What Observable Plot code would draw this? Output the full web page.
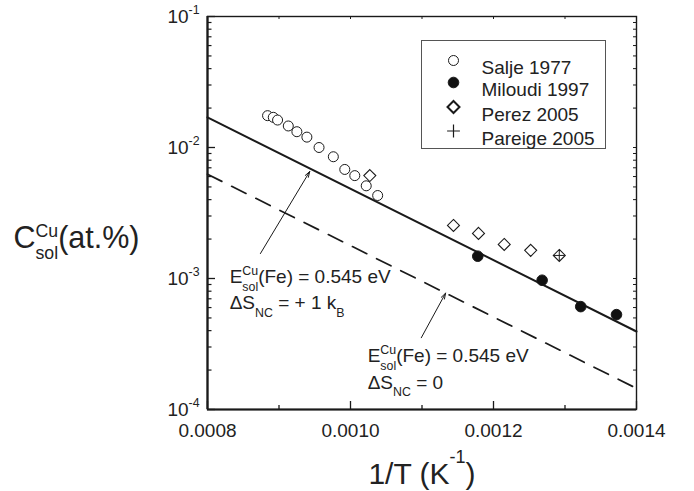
<!DOCTYPE html>
<html>
<head>
<meta charset="utf-8">
<script src="https://cdn.jsdelivr.net/npm/d3@7"></script>
<script src="https://cdn.jsdelivr.net/npm/@observablehq/plot@0.6"></script>
<style>
  html, body { margin: 0; padding: 0; background: #fff; }
  #chart { width: 694px; height: 491px; }
</style>
</head>
<body>
<div id="chart"></div>
<script>
// ---------- data ----------
const saljeX = [0.000884, 0.000892, 0.000898, 0.000913, 0.000925, 0.000939, 0.000956, 0.000976, 0.000992, 0.001006, 0.001022, 0.001038];
const saljeY = [0.0175, 0.0170, 0.0162, 0.0146, 0.0132, 0.0120, 0.0100, 0.0085, 0.0068, 0.0061, 0.0051, 0.0043];

const miloudiX = [0.001178, 0.001268, 0.001322, 0.001372];
const miloudiY = [0.00148, 0.00097, 0.00061, 0.00053];

const perezX = [0.001027, 0.001144, 0.001179, 0.001215, 0.001252, 0.001292];
const perezY = [0.00611, 0.00254, 0.00221, 0.00182, 0.00164, 0.00150];

const pareigeX = [0.001292];
const pareigeY = [0.00150];

// fitted lines E = 0.545 eV, with and without ΔS = +1 kB
const lineX = [0.0008, 0.0014];
const solidY = [0.0170, 0.000394];
const dashedY = [0.00625, 0.000145];

// annotations
const annX = [0.000831, 0.000831, 0.001024, 0.001024];
const annY = [0.000916, 0.000580, 0.000229, 0.000143];
const annText = ["E^{Cu}_{sol}(Fe) = 0.545 eV", "ΔS_{NC} = + 1 k_{B}", "E^{Cu}_{sol}(Fe) = 0.545 eV", "ΔS_{NC} = 0"];

const arrowX1 = [0.000874, 0.001099];
const arrowY1 = [0.00155, 0.000353];
const arrowX2 = [0.000943, 0.001133];
const arrowY2 = [0.00656, 0.000773];

// axes
const xMajor = [0.0008, 0.0010, 0.0012, 0.0014];
const xMinor = [0.0009, 0.0011, 0.0013];
const xTickLabels = ["0.0008", "0.0010", "0.0012", "0.0014"];
const yMajor = [1e-4, 1e-3, 1e-2, 1e-1];
const yTickLabels = ["10^{-4}", "10^{-3}", "10^{-2}", "10^{-1}"];
const yMinor = [1e-4, 1e-3, 1e-2].flatMap(d => [2, 3, 4, 5, 6, 7, 8, 9].map(m => m * d));
const xTitle = "1/T (K^{-1})";
const yTitle = "C^{Cu}_{sol}(at.%)";

// legend
const legendLabels = ["Salje 1977", "Miloudi 1997", "Perez 2005", "Pareige 2005"];
const legendSymbols = ["circle", "circle", "diamond2", "plus"];
const legendFills = ["none", "#111", "none", "none"];
const legendR = [5, 5.3, 5.4, 4.2];
const legendSW = [1, 1, 2, 1.2];
const legendDy = [44, 66, 90.5, 114.5];

// ---------- build ----------
const ink = "#1a1a1a";
const W = 694, H = 491, mL = 207, mR = 58, mT = 16, mB = 82;
const fw = W - mL - mR, fh = H - mT - mB;

const salje = saljeX.map((x, i) => ({x, y: saljeY[i]}));
const miloudi = miloudiX.map((x, i) => ({x, y: miloudiY[i]}));
const perez = perezX.map((x, i) => ({x, y: perezY[i]}));
const pareige = pareigeX.map((x, i) => ({x, y: pareigeY[i]}));
const solid = lineX.map((x, i) => ({x, y: solidY[i]}));
const dashed = lineX.map((x, i) => ({x, y: dashedY[i]}));
const ann = annX.map((x, i) => ({x, y: annY[i], t: annText[i]}));
const arrows = arrowX1.map((x1, i) => ({x1, y1: arrowY1[i], x2: arrowX2[i], y2: arrowY2[i]}));

const legendMarks = legendLabels.flatMap((lab, i) => [
  Plot.dot([lab], {frameAnchor: "top-left", dx: 246, dy: legendDy[i], symbol: legendSymbols[i],
    r: legendR[i], fill: legendFills[i], stroke: ink, strokeWidth: legendSW[i]}),
  Plot.text([lab], {frameAnchor: "top-left", dx: 274, dy: legendDy[i], text: d => d,
    textAnchor: "start", fontSize: 19, fill: "#222"})
]);

const chart = Plot.plot({
  width: W, height: H,
  marginLeft: mL, marginRight: mR, marginTop: mT, marginBottom: mB,
  style: {fontFamily: "'Liberation Sans', Arial, sans-serif", fontSize: "19px", color: "#222", background: "#fff"},
  x: {domain: [0.0008, 0.0014]},
  y: {type: "log", domain: [1e-4, 1e-1]},
  marks: [
    // tick marks (inward)
    Plot.tickX(xMajor, {x: d => d, insetTop: fh - 8, stroke: ink, strokeWidth: 1.3}),
    Plot.tickX(xMinor, {x: d => d, insetTop: fh - 4, stroke: ink, strokeWidth: 1.3}),
    Plot.tickX([...xMajor, ...xMinor], {x: d => d, insetBottom: fh - 3, stroke: ink, strokeWidth: 1}),
    Plot.tickY(yMajor, {y: d => d, insetRight: fw - 8, stroke: ink, strokeWidth: 1.3}),
    Plot.tickY(yMinor, {y: d => d, insetRight: fw - 4.5, stroke: ink, strokeWidth: 1.2}),
    Plot.tickY([...yMajor, ...yMinor], {y: d => d, insetLeft: fw - 3, stroke: ink, strokeWidth: 1}),
    Plot.frame({stroke: ink, strokeWidth: 1.4}),
    Plot.ruleX([0.0008], {stroke: ink, strokeWidth: 2.2}),
    Plot.ruleY([1e-4], {stroke: ink, strokeWidth: 2.2}),
    Plot.axisX({ticks: xMajor, tickSize: 0, tickPadding: 14, tickFormat: d => xTickLabels[xMajor.indexOf(d)], label: null, fontSize: 19, fill: "#222"}),
    Plot.axisY({ticks: yMajor, tickSize: 0, tickPadding: 8, tickFormat: d => yTickLabels[yMajor.indexOf(d)], label: null, fontSize: 19, fill: "#222"}),
    // lines
    Plot.line(solid, {x: "x", y: "y", stroke: ink, strokeWidth: 2}),
    Plot.line(dashed, {x: "x", y: "y", stroke: ink, strokeWidth: 1.7, strokeDasharray: "16,11"}),
    // data
    Plot.dot(salje, {x: "x", y: "y", r: 5, fill: "#fff", stroke: ink, strokeWidth: 1}),
    Plot.dot(perez, {x: "x", y: "y", symbol: "diamond2", r: 5.4, fill: "none", stroke: ink, strokeWidth: 1.1}),
    Plot.dot(pareige, {x: "x", y: "y", symbol: "plus", r: 3.6, stroke: ink, strokeWidth: 1}),
    Plot.dot(miloudi, {x: "x", y: "y", r: 5.3, fill: "#111", stroke: ink, strokeWidth: 1}),
    // annotations
    Plot.arrow(arrows, {x1: "x1", y1: "y1", x2: "x2", y2: "y2", stroke: ink, strokeWidth: 1, headLength: 9, headAngle: 35}),
    Plot.text(ann, {x: "x", y: "y", text: "t", textAnchor: "start", lineAnchor: "bottom", fontSize: 19, fill: "#222"}),
    // legend
    Plot.frame({insetLeft: 214, insetTop: 24, insetRight: 31, insetBottom: 261, stroke: "#555", strokeWidth: 1}),
    ...legendMarks,
    // axis titles
    Plot.text([yTitle], {frameAnchor: "left", dx: -194, dy: 34.5, text: d => d, textAnchor: "start", lineAnchor: "bottom", fontSize: 30.5, fill: "#222"}),
    Plot.text([xTitle], {frameAnchor: "bottom", dx: 0, dy: 74, text: d => d, textAnchor: "middle", lineAnchor: "bottom", fontSize: 30, fill: "#222"})
  ]
});

document.getElementById("chart").appendChild(chart);

// ---------- rich text (super/subscripts) ----------
const NS = "http://www.w3.org/2000/svg";
function parseRich(s) {
  const tokens = []; let buf = ""; let i = 0;
  while (i < s.length) {
    const c = s[i];
    if ((c === "^" || c === "_") && s[i + 1] === "{") {
      if (buf) { tokens.push({k: "n", t: buf}); buf = ""; }
      const j = s.indexOf("}", i);
      tokens.push({k: c === "^" ? "sup" : "sub", t: s.slice(i + 2, j)});
      i = j + 1;
    } else { buf += c; i++; }
  }
  if (buf) tokens.push({k: "n", t: buf});
  return tokens;
}
const richParams = {
  [xTitle]: {sup: -0.68, sub: 0.4, scale: 0.6},
  [yTitle]: {sup: -0.36, sub: 0.37, scale: 0.58},
  default: {sup: -0.43, sub: 0.38, scale: 0.65}
};
function applyRich(el) {
  const s = el.textContent;
  const p = richParams[s] || richParams.default;
  const base = parseFloat(getComputedStyle(el).fontSize) || 19;
  const tokens = parseRich(s);
  el.textContent = "";
  let cur = 0, pendingDx = 0, lastSupW = 0, prev = "n";
  for (const tk of tokens) {
    const ts = document.createElementNS(NS, "tspan");
    ts.textContent = tk.t;
    let target = 0;
    if (tk.k === "sup") target = p.sup * base;
    if (tk.k === "sub") target = p.sub * base;
    if (tk.k !== "n") ts.setAttribute("font-size", (p.scale * base).toFixed(2));
    ts.setAttribute("dy", (target - cur).toFixed(2));
    cur = target;
    let dx = pendingDx; pendingDx = 0;
    el.appendChild(ts);
    const w = ts.getComputedTextLength();
    if (tk.k === "sub" && prev === "sup") {
      dx -= lastSupW;
      if (lastSupW > w) pendingDx = lastSupW - w;
    }
    if (tk.k === "sup") lastSupW = w;
    if (dx) ts.setAttribute("dx", dx.toFixed(2));
    prev = tk.k;
  }
}
chart.querySelectorAll("text").forEach(el => {
  if (/[\^_]\{/.test(el.textContent)) applyRich(el);
});
</script>
</body>
</html>
